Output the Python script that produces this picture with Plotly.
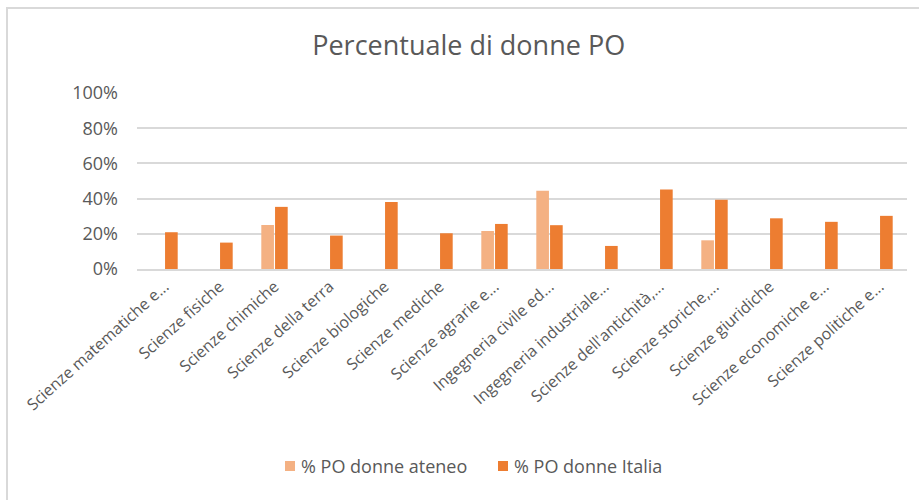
import plotly.graph_objects as go

categories = [
    "Scienze matematiche e...", "Scienze fisiche", "Scienze chimiche",
    "Scienze della terra", "Scienze biologiche", "Scienze mediche",
    "Scienze agrarie e...", "Ingegneria civile ed...", "Ingegneria industriale...",
    "Scienze dell'antichità,...", "Scienze storiche,...", "Scienze giuridiche",
    "Scienze economiche e...", "Scienze politiche e...",
]
ateneo = [None, None, 0.25, None, None, None, 0.216, 0.444, None, None, 0.163, None, None, None]
italia = [0.209, 0.15, 0.353, 0.19, 0.38, 0.203, 0.256, 0.249, 0.131, 0.452, 0.393, 0.288, 0.268, 0.302]
tick_vals = [0, 0.2, 0.4, 0.6, 0.8, 1.0]
tick_text = ["0%", "20%", "40%", "60%", "80%", "100%"]
series_names = ["% PO donne ateneo", "% PO donne Italia"]
series_colors = ["#F4B183", "#ED7D31"]

FONT = "Open Sans"
GREY = "#595959"

# plot-area geometry in pixels (for paper-coordinate conversion)
L, R, T, B = 137, 12, 93, 231
W, H = 919, 500
PW, PH = W - L - R, H - T - B


def px(x):
    return (x - L) / PW


def py(y):
    return (H - B - y) / PH


fig = go.Figure()
for name, vals, col in zip(series_names, [ateneo, italia], series_colors):
    fig.add_trace(go.Bar(name=name, x=categories, y=vals,
                         marker=dict(color=col, line=dict(width=0))))

fig.update_layout(
    width=W, height=H,
    margin=dict(l=L, r=R, t=T, b=B, autoexpand=False),
    paper_bgcolor="white", plot_bgcolor="white",
    barmode="group", bargap=0.5, bargroupgap=0.08,
    font=dict(family=FONT, color=GREY, size=15),
    title=dict(text="Percentuale di donne PO", x=0.51, xanchor="center",
               y=1 - 46 / H, yanchor="middle", yref="container",
               font=dict(family=FONT, size=27, color=GREY)),
    showlegend=False,
)
fig.update_xaxes(tickangle=-42, showgrid=False, showline=True, linecolor="#D9D9D9",
                 linewidth=2, ticks="", automargin=False,
                 tickfont=dict(family=FONT, size=16, color=GREY))
fig.update_yaxes(range=[0, 1.0], tickvals=tick_vals, ticktext=tick_text,
                 showgrid=True, gridcolor="#D9D9D9", gridwidth=2, zeroline=False,
                 showline=False, ticks="", ticklabelstandoff=18, automargin=False,
                 tickfont=dict(family=FONT, size=18, color=GREY))

# legend drawn as swatches + text
legend_x = [285, 498]
for lx, name, col in zip(legend_x, series_names, series_colors):
    fig.add_shape(type="rect", xref="paper", yref="paper",
                  x0=px(lx), x1=px(lx + 10), y0=py(471), y1=py(461),
                  line=dict(width=0), fillcolor=col)
    fig.add_annotation(xref="paper", yref="paper", x=px(lx + 14), y=py(466),
                       text=name, showarrow=False, xanchor="left", yanchor="middle",
                       font=dict(family=FONT, size=18, color=GREY))

# outer chart border
fig.add_shape(type="rect", xref="paper", yref="paper",
              x0=px(7), x1=px(930), y0=py(520), y1=py(8),
              line=dict(color="#D9D9D9", width=2), fillcolor="rgba(0,0,0,0)", layer="below")

fig.write_html("out.html", config={"displayModeBar": False},
               post_script="document.body.style.margin='0';document.body.style.padding='0';")
